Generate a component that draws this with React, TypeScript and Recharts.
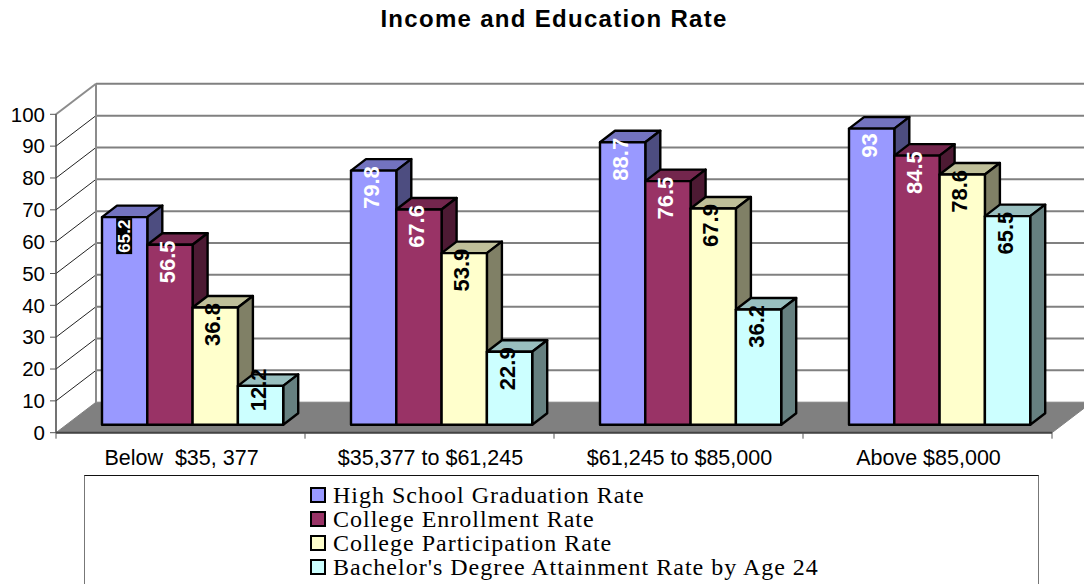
import { BarChart, Bar, XAxis, YAxis, CartesianGrid, LabelList, Legend } from "recharts";

const incomeBands = ["Below  $35, 377", "$35,377 to $61,245", "$61,245 to $85,000", "Above $85,000"];
const highSchool = [65.2, 79.8, 88.7, 93];
const enrollment = [56.5, 67.6, 76.5, 84.5];
const participation = [36.8, 53.9, 67.9, 78.6];
const bachelors = [12.2, 22.9, 36.2, 65.5];
const valueTicks = [0, 10, 20, 30, 40, 50, 60, 70, 80, 90, 100];

const data = incomeBands.map((band, i) => ({
  band,
  highSchool: highSchool[i],
  enrollment: enrollment[i],
  participation: participation[i],
  bachelors: bachelors[i],
}));

const sans = "'Liberation Sans', Arial, sans-serif";
const serif = "'Liberation Serif', 'Times New Roman', serif";

const WIDTH = 1084;
const HEIGHT = 584;
const PLOT_LEFT = 56;
const PLOT_TOP = 114.3;
const PLOT_BOTTOM = 432.7;
const BAND = 249;

// depth of the fake 3D box behind the plot
const WALL_DX = 40;
const WALL_DY = -30.5;
// bars stand a little way back on the floor, and have their own depth
const BAR_SHIFT_X = 12;
const BAR_SHIFT_Y = -8;
const BAR_DX = 15;
const BAR_DY = -11.5;

function shade(hex: string, k: number) {
  const n = parseInt(hex.slice(1), 16);
  const c = [(n >> 16) & 255, (n >> 8) & 255, n & 255].map((v) => Math.round(v * k));
  return `rgb(${c[0]},${c[1]},${c[2]})`;
}

function Box3D({ x, y, width, height, fill }: any) {
  const l = x + BAR_SHIFT_X;
  const t = y + BAR_SHIFT_Y;
  const r = l + width;
  const b = t + height;
  const common = { stroke: "#000", strokeWidth: 2.4, strokeLinejoin: "round" as const };
  return (
    <g>
      <polygon
        points={`${l},${t} ${l + BAR_DX},${t + BAR_DY} ${r + BAR_DX},${t + BAR_DY} ${r},${t}`}
        fill={shade(fill, 0.75)}
        {...common}
      />
      <polygon
        points={`${r},${t} ${r + BAR_DX},${t + BAR_DY} ${r + BAR_DX},${b + BAR_DY} ${r},${b}`}
        fill={shade(fill, 0.5)}
        {...common}
      />
      <rect x={l} y={t} width={width} height={height} fill={fill} {...common} />
    </g>
  );
}

// walls and floor are hung off the grid lines so they follow the value scale
function WallLine({ x1, x2, y1 }: any) {
  const bx = x1 + WALL_DX;
  const by = y1 + WALL_DY;
  const isFloor = Math.abs(y1 - PLOT_BOTTOM) < 1;
  const isTop = Math.abs(y1 - PLOT_TOP) < 1;
  if (isFloor) {
    return (
      <polygon points={`${x1},${y1} ${bx},${by} ${x2 + WALL_DX},${by} ${x2},${y1}`} fill="#808080" stroke="#808080" />
    );
  }
  return (
    <g>
      <line x1={x1} y1={y1} x2={bx} y2={by} stroke={isTop ? "#8c8c8c" : "#222"} strokeWidth={isTop ? 2 : 1} />
      <line x1={bx} y1={by} x2={x2 + WALL_DX} y2={by} stroke="#808080" strokeWidth={2} />
      {isTop && (
        <line x1={bx} y1={by} x2={bx} y2={PLOT_BOTTOM + WALL_DY} stroke="#8c8c8c" strokeWidth={2} />
      )}
    </g>
  );
}

function BandTick({ x, payload, index }: any) {
  const left = x - BAND / 2;
  return (
    <g>
      <line x1={left} y1={PLOT_BOTTOM} x2={left} y2={PLOT_BOTTOM + 6} stroke="#555" />
      {index === incomeBands.length - 1 && (
        <line x1={left + BAND} y1={PLOT_BOTTOM} x2={left + BAND} y2={PLOT_BOTTOM + 6} stroke="#555" />
      )}
      <text
        x={x + 1}
        y={PLOT_BOTTOM + 32.5}
        textAnchor="middle"
        fontFamily={sans}
        fontSize={21.5}
        fill="#000"
        style={{ whiteSpace: "pre" }}
      >
        {payload.value}
      </text>
    </g>
  );
}

function valueLabel(color: string, boxed?: number) {
  return function ValueLabel({ x, y, width, height, value }: any) {
    const top = y + BAR_SHIFT_Y;
    const hasBox = value === boxed;
    const cx = x + BAR_SHIFT_X + width / 2 - (hasBox ? 0.5 : 2.5);
    // short bars push their label up over the top face
    const cy = hasBox ? top + 19 : top + (height < 60 ? 4 : 17);
    return (
      <g transform={`translate(${cx},${cy}) rotate(-90)`}>
        {hasBox && <rect x={-18} y={-8} width={36} height={16} fill="#000" />}
        <text
          textAnchor="middle"
          dominantBaseline="central"
          fontFamily={sans}
          fontWeight={700}
          fontSize={hasBox ? 17 : 22}
          fill={color}
        >
          {value}
        </text>
      </g>
    );
  };
}

function LegendBox({ payload }: any) {
  return (
    <div style={{ paddingTop: 7, paddingLeft: 225 }}>
      {(payload || []).map((item: any) => (
        <div key={item.value} style={{ display: "flex", alignItems: "center", height: 24 }}>
          <span
            style={{
              width: 12,
              height: 12,
              border: "2px solid #000",
              background: item.color,
              marginRight: 7,
              flex: "none",
            }}
          />
          <span style={{ fontFamily: serif, fontSize: 24, letterSpacing: 1, color: "#000", whiteSpace: "pre" }}>
            {item.value}
          </span>
        </div>
      ))}
    </div>
  );
}

export default function App() {
  return (
    <div style={{ width: WIDTH, height: HEIGHT, overflow: "hidden", background: "#fff", position: "relative" }}>
      <style>{"html,body{margin:0;padding:0;overflow:hidden;background:#fff}"}</style>
      <BarChart
        width={WIDTH}
        height={HEIGHT}
        data={data}
        margin={{ top: PLOT_TOP, right: WIDTH - PLOT_LEFT - BAND * 4, left: 0, bottom: HEIGHT - PLOT_BOTTOM - 40 }}
        barSize={45.3}
        barGap={0}
      >
        <text x={554} y={27} textAnchor="middle" fontFamily={sans} fontWeight={700} fontSize={24} letterSpacing={1.3} fill="#000">
          Income and Education Rate
        </text>
        <CartesianGrid vertical={false} horizontal={WallLine as any} syncWithTicks />
        <XAxis
          dataKey="band"
          height={40}
          interval={0}
          axisLine={{ stroke: "#444", strokeWidth: 2 }}
          tickLine={false}
          tick={BandTick as any}
        />
        <YAxis
          width={PLOT_LEFT}
          domain={[0, 100]}
          ticks={valueTicks}
          interval={0}
          axisLine={{ stroke: "#444", strokeWidth: 1.5 }}
          tickLine={{ stroke: "#555" }}
          tickSize={6}
          tickMargin={5}
          tick={{ fontFamily: sans, fontSize: 20.5, fill: "#000" }}
        />
        <Legend
          layout="horizontal"
          verticalAlign="middle"
          align="center"
          itemSorter={null}
          content={LegendBox as any}
          wrapperStyle={{
            left: 84,
            top: 475,
            width: 955,
            height: 130,
            boxSizing: "border-box",
            background: "#fff",
            borderTop: "1.5px solid #111",
            borderLeft: "1.5px solid #777",
            borderRight: "1.5px solid #777",
          }}
        />
        <Bar dataKey="highSchool" name="High School Graduation Rate" fill="#9999FF" shape={Box3D as any} isAnimationActive={false}>
          <LabelList dataKey="highSchool" content={valueLabel("#fff", 65.2) as any} />
        </Bar>
        <Bar dataKey="enrollment" name="College Enrollment Rate" fill="#993366" shape={Box3D as any} isAnimationActive={false}>
          <LabelList dataKey="enrollment" content={valueLabel("#fff") as any} />
        </Bar>
        <Bar dataKey="participation" name="College Participation Rate" fill="#FFFFCC" shape={Box3D as any} isAnimationActive={false}>
          <LabelList dataKey="participation" content={valueLabel("#000") as any} />
        </Bar>
        <Bar dataKey="bachelors" name="Bachelor's Degree Attainment Rate by Age 24" fill="#CCFFFF" shape={Box3D as any} isAnimationActive={false}>
          <LabelList dataKey="bachelors" content={valueLabel("#000") as any} />
        </Bar>
      </BarChart>
    </div>
  );
}
